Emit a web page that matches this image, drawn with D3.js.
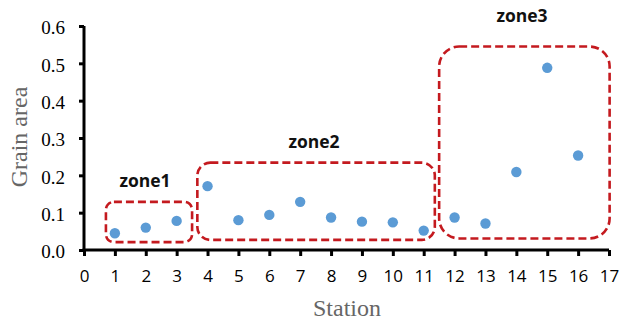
<!DOCTYPE html>
<html>
<head>
<meta charset="utf-8">
<script src="https://cdn.jsdelivr.net/npm/d3@7"></script>
<style>
  html, body { margin: 0; padding: 0; background: #fff; }
  svg { display: block; }
</style>
</head>
<body>
<svg id="chart" width="622" height="321"></svg>
<script>
// Grain area measured at each station
const stations = [1, 2, 3, 4, 5, 6, 7, 8, 9, 10, 11, 12, 13, 14, 15, 16];
const grainArea = [0.045, 0.060, 0.078, 0.171, 0.080, 0.094, 0.129, 0.087, 0.076, 0.074, 0.052, 0.087, 0.071, 0.209, 0.488, 0.253];

const xTicks = d3.range(0, 18);
const yTicks = [0, 0.1, 0.2, 0.3, 0.4, 0.5, 0.6];

// Zones grouping the stations (station range and value range they enclose)
const zoneNames = ["zone1", "zone2", "zone3"];
const zoneStationFrom = [0.71, 3.67, 11.5];
const zoneStationTo = [3.5, 11.36, 17.02];
const zoneValueLow = [0.021, 0.027, 0.031];
const zoneValueHigh = [0.129, 0.234, 0.545];

const svg = d3.select("#chart");
const x = d3.scaleLinear().domain([0, 17]).range([84, 609]);
const y = d3.scaleLinear().domain([0, 0.6]).range([250, 26]);

// Zone outlines
const cornerR = [8, 13, 20];
zoneNames.forEach((name, i) => {
  const x0 = x(zoneStationFrom[i]), x1 = x(zoneStationTo[i]);
  const y0 = y(zoneValueHigh[i]), y1 = y(zoneValueLow[i]);
  svg.append("rect")
    .attr("x", x0).attr("y", y0)
    .attr("width", x1 - x0).attr("height", y1 - y0)
    .attr("rx", cornerR[i]).attr("ry", cornerR[i])
    .attr("fill", "none")
    .attr("stroke", "#c41a1f")
    .attr("stroke-width", 2.6)
    .attr("stroke-dasharray", "8,4");
});

// Zone labels (baseline positions)
const labelPos = [[145, 187], [314, 148], [522, 21.5]];
zoneNames.forEach((name, i) => {
  svg.append("text")
    .attr("x", labelPos[i][0]).attr("y", labelPos[i][1])
    .attr("text-anchor", "middle")
    .attr("font-family", "'Open Sans', 'Liberation Sans', sans-serif")
    .attr("font-weight", "bold")
    .attr("font-size", 17.5)
    .attr("fill", "#111")
    .text(name);
});

// Y axis
const yAxis = svg.append("g")
  .attr("transform", `translate(${x(0)},0)`)
  .call(d3.axisLeft(y).tickValues(yTicks).tickFormat(d3.format(".1f")).tickSize(5).tickPadding(14));
yAxis.select(".domain").attr("stroke", "#000").attr("stroke-width", 3)
  .attr("d", `M0,${y(0.6)}V${y(0)}`);
yAxis.selectAll(".tick line").attr("stroke", "#000").attr("stroke-width", 3);
yAxis.selectAll(".tick text")
  .attr("dy", "0.42em")
  .attr("font-family", "'Liberation Serif', 'Times New Roman', serif")
  .attr("font-size", 19).attr("fill", "#000");

// X axis
const xAxis = svg.append("g")
  .attr("transform", `translate(0,${y(0)})`)
  .call(d3.axisBottom(x).tickValues(xTicks).tickFormat(d3.format("d")).tickSize(6).tickPadding(14));
xAxis.select(".domain").attr("stroke", "#000").attr("stroke-width", 3)
  .attr("d", `M${x(0) - 1.5},0H${x(17)}`);
xAxis.selectAll(".tick line").attr("stroke", "#000").attr("stroke-width", 3);
xAxis.selectAll(".tick text")
  .attr("font-family", "'Open Sans', 'Liberation Sans', sans-serif")
  .attr("font-size", 17).attr("fill", "#000");

// Data points
svg.append("g").selectAll("circle")
  .data(stations)
  .join("circle")
  .attr("cx", d => x(d))
  .attr("cy", (d, i) => y(grainArea[i]))
  .attr("r", 5.2)
  .attr("fill", "#5b9bd5");

// Axis titles
svg.append("text")
  .attr("x", 347).attr("y", 316)
  .attr("text-anchor", "middle")
  .attr("font-family", "'Liberation Serif', 'Times New Roman', serif")
  .attr("font-size", 24).attr("fill", "#666")
  .text("Station");

svg.append("text")
  .attr("transform", "translate(27,137) rotate(-90)")
  .attr("text-anchor", "middle")
  .attr("font-family", "'Liberation Serif', 'Times New Roman', serif")
  .attr("font-size", 24).attr("fill", "#666")
  .text("Grain area");
</script>
</body>
</html>
